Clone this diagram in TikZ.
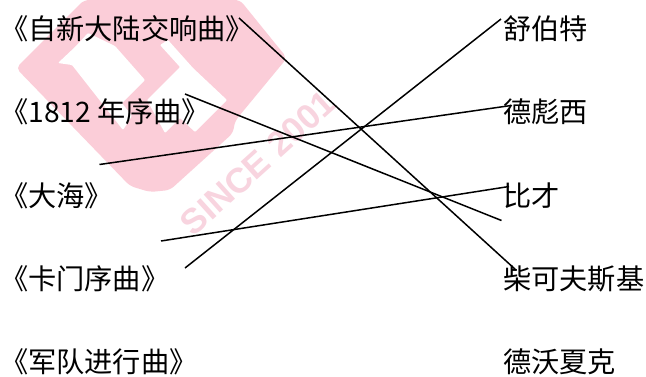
\documentclass[tikz,border=0pt]{standalone}
\usepackage{fontspec}
\newfontfamily\cjk{Noto Sans CJK SC}
\setmainfont{Liberation Sans}
\definecolor{wmpink}{HTML}{FBCDD8}
\definecolor{wmtext}{HTML}{F8D4DF}
\tikzset{x=1pt,y=-1pt,lbl/.style={inner sep=0pt,anchor=west,font=\fontsize{28.2}{30}\selectfont\cjk},cn/.style={line width=1.5pt,black}}
\begin{document}
\begin{tikzpicture}
\useasboundingbox (0,0) rectangle (646,376);
\fill[white] (0,0) rectangle (646,376);
\fill[wmpink,rounded corners=5pt] (16,68) -- (84,0) -- (240,0) -- (287,58) -- (235,121) -- (233,133) -- (170,190) -- (150,192) -- (130,186) -- cycle;
\fill[white,rounded corners=1pt] (58,63) -- (75,47) -- (88,33) -- (115,46) -- (145,80) -- (122,103) -- (132,116) -- (123,130) -- (72,65) -- cycle;
\fill[white,rounded corners=1pt] (168,40) -- (193,68) -- (227,100) -- (195,132) -- (180,118) -- (165,133) -- (147,100) -- (180,67) -- (160,45) -- cycle;
\node[font=\fontsize{35}{35}\selectfont\bfseries,text=wmtext,rotate=42] (wm) at (258,163) {SINCE 2001};
\node[lbl] (l1) at (0,29) {《自新大陆交响曲》};
\node[lbl] (l2) at (0,112) {《1812 年序曲》};
\node[lbl] (l3) at (0,196) {《大海》};
\node[lbl] (l4) at (0,279) {《卡门序曲》};
\node[lbl] (l5) at (0,362) {《军队进行曲》};
\node[lbl] (r1) at (503,29) {舒伯特};
\node[lbl] (r2) at (503,112) {德彪西};
\node[lbl] (r3) at (503,196) {比才};
\node[lbl] (r4) at (503,279) {柴可夫斯基};
\node[lbl] (r5) at (503,362) {德沃夏克};
\coordinate (a1) at (239,18);
\coordinate (b1) at (516,270);
\coordinate (a2) at (185,94);
\coordinate (b2) at (501.5,220.5);
\coordinate (a3) at (99.5,164.5);
\coordinate (b3) at (511,105.5);
\coordinate (a4) at (161,241);
\coordinate (b4) at (509,186.5);
\coordinate (a5) at (185,268);
\coordinate (b5) at (501,19);
\draw[cn] (a1) -- (b1);
\draw[cn] (a2) -- (b2);
\draw[cn] (a3) -- (b3);
\draw[cn] (a4) -- (b4);
\draw[cn] (a5) -- (b5);
\end{tikzpicture}
\end{document}
